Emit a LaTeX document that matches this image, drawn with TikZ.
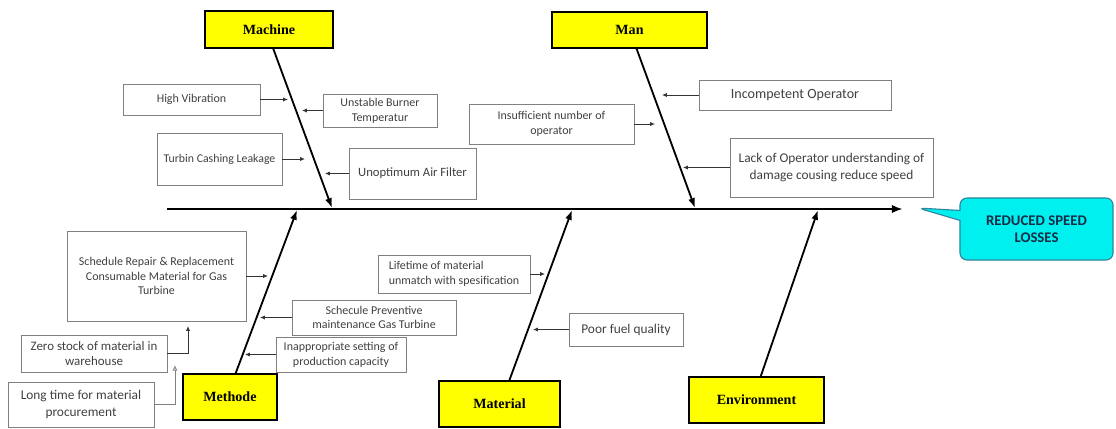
\documentclass[tikz,border=0pt]{standalone}
\usepackage{fontspec}
\setmainfont{Carlito}
\newfontfamily\labelfont{Liberation Serif}
\definecolor{catyellow}{RGB}{255, 255, 0}
\definecolor{boxgray}{RGB}{128, 128, 128}
\definecolor{textgray}{RGB}{64, 64, 64}
\definecolor{effectcyan}{RGB}{0, 240, 240}
\definecolor{effectedge}{RGB}{49, 133, 156}
\definecolor{effectnavy}{RGB}{23, 45, 70}
\usetikzlibrary{shapes.callouts, arrows.meta, positioning}

\begin{document}
\begin{tikzpicture}[x=0.025cm, y=-0.025cm,
  cat/.style={draw=black, line width=0.9pt, fill=catyellow, inner sep=0pt, font=\labelfont\bfseries\fontsize{10}{12}\selectfont},
  cause/.style={draw=boxgray, line width=0.6pt, inner sep=1pt, align=center, text=textgray, font=\fontsize{8.5}{10.5}\selectfont},
  bone/.style={line width=1.3pt, -{Latex[length=7pt, width=5pt]}},
  twig/.style={line width=0.6pt, black!80, -{Latex[length=3.5pt, width=3pt]}}]
  \useasboundingbox (0,0) rectangle (1116,428);

  % Spine and effect
  \coordinate (tail) at (167,209);
  \coordinate (head) at (903,209);
  \coordinate (tip) at (918,208);
  \draw[line width=2pt, -{Latex[length=8pt, width=6pt]}] (tail) -- (head);
  \node[rectangle callout, callout absolute pointer={(tip)}, draw=effectedge, fill=effectcyan, line width=0.8pt, rounded corners=5pt,
        minimum width=3.825cm, minimum height=1.55cm, align=center, text=effectnavy,
        font=\bfseries\fontsize{10.5}{12.5}\selectfont] (effect) at (1036.5,229) {REDUCED SPEED\\LOSSES};

  % Categories
  \node[cat, minimum width=3.2cm, minimum height=0.925cm] (machine) at (269,29.5) {Machine};
  \node[cat, minimum width=3.875cm, minimum height=0.9cm] (man) at (629.5,30) {Man};
  \node[cat, minimum width=2.35cm, minimum height=1.15cm] (methode) at (230,397) {Methode};
  \node[cat, minimum width=3.025cm, minimum height=1.15cm] (material) at (499.5,404) {Material};
  \node[cat, minimum width=3.375cm, minimum height=1.15cm] (environment) at (756.5,400) {Environment};

  % Bones
  \coordinate (machineend) at (332,208);
  \coordinate (manend) at (695,208);
  \coordinate (methodeend) at (297,210);
  \coordinate (materialend) at (572,210);
  \coordinate (environmentend) at (818,210);
  \draw[bone] ([xshift=3pt]machine.south) -- (machineend);
  \draw[bone] ([xshift=5pt]man.south) -- (manend);
  \draw[bone] ([xshift=4pt]methode.north) -- (methodeend);
  \draw[bone] ([xshift=7pt]material.north) -- (materialend);
  \draw[bone] ([xshift=3pt]environment.north) -- (environmentend);

  % Machine causes
  \node[cause, minimum width=3.425cm, minimum height=0.775cm] (vibration) at (191.5,99.5) {High Vibration};
  \node[cause, minimum width=2.85cm, minimum height=0.825cm] (burner) at (380,110.5) {Unstable Burner\\Temperatur};
  \node[cause, minimum width=3.125cm, minimum height=1.3cm, font=\fontsize{8.4}{10}\selectfont] (leakage) at (219.5,159) {Turbin Cashing Leakage};
  \node[cause, minimum width=3.175cm, minimum height=1.275cm, font=\fontsize{9}{11}\selectfont] (airfilter) at (412.5,173.5) {Unoptimum Air Filter};
  \coordinate (vibrationend) at (288,99.5);
  \coordinate (burnerend) at (302,110.5);
  \coordinate (leakageend) at (305,159);
  \coordinate (airfilterend) at (325,173.5);
  \draw[twig] (vibration) -- (vibrationend);
  \draw[twig] (burner) -- (burnerend);
  \draw[twig] (leakage) -- (leakageend);
  \draw[twig] (airfilter) -- (airfilterend);

  % Man causes
  \node[cause, minimum width=4.8cm, minimum height=0.75cm, font=\fontsize{10}{12}\selectfont] (incompetent) at (795,95) {Incompetent Operator};
  \node[cause, minimum width=4.125cm, minimum height=1cm] (insufficient) at (551.5,124) {Insufficient number of\\operator};
  \node[cause, minimum width=5.075cm, minimum height=1.475cm, font=\fontsize{9.5}{12}\selectfont] (understanding) at (831.5,167.5) {Lack of Operator understanding of\\damage cousing reduce speed};
  \coordinate (incompetentend) at (662,95);
  \coordinate (insufficientend) at (655,124);
  \coordinate (understandingend) at (683,167.5);
  \draw[twig] (incompetent) -- (incompetentend);
  \draw[twig] (insufficient) -- (insufficientend);
  \draw[twig] (understanding) -- (understandingend);

  % Methode causes
  \node[cause, minimum width=4.475cm, minimum height=2.25cm] (repair) at (156.5,276) {Schedule Repair \& Replacement\\Consumable Material for Gas\\Turbine};
  \node[cause, minimum width=4.1cm, minimum height=0.875cm] (preventive) at (374,317.5) {Schecule Preventive\\maintenance Gas Turbine};
  \node[cause, minimum width=3.25cm, minimum height=0.875cm] (capacity) at (341,354.5) {Inappropriate setting of\\production capacity};
  \node[cause, minimum width=3.65cm, minimum height=0.925cm, font=\fontsize{9.2}{11}\selectfont] (zerostock) at (94,353.5) {Zero stock of material in\\warehouse};
  \node[cause, minimum width=3.65cm, minimum height=1.125cm, font=\fontsize{9.5}{11.5}\selectfont] (procurement) at (81,404.5) {Long time for material\\procurement};
  \coordinate (repairend) at (268,276);
  \coordinate (preventiveend) at (260,317.5);
  \coordinate (capacityend) at (245,354.5);
  \coordinate (repairbottom) at (188,326);
  \coordinate (zerostockbottom) at (175,365);
  \draw[twig] (repair) -- (repairend);
  \draw[twig] (preventive) -- (preventiveend);
  \draw[twig] (capacity) -- (capacityend);
  \draw[twig] (zerostock.east) -| (repairbottom);
  \draw[line width=0.6pt, black!50, -{Latex[open, length=4pt, width=3.5pt]}] (procurement.east) -| (zerostockbottom);

  % Material causes
  \node[cause, minimum width=3.8cm, minimum height=0.95cm, align=left] (lifetime) at (454,274) {Lifetime of material\\unmatch with spesification};
  \node[cause, minimum width=2.85cm, minimum height=0.825cm, font=\fontsize{9.5}{11.5}\selectfont] (fuel) at (626,329.5) {Poor fuel quality};
  \coordinate (lifetimeend) at (545,274);
  \coordinate (fuelend) at (533,329.5);
  \draw[twig] (lifetime) -- (lifetimeend);
  \draw[twig] (fuel) -- (fuelend);
\end{tikzpicture}
\end{document}
